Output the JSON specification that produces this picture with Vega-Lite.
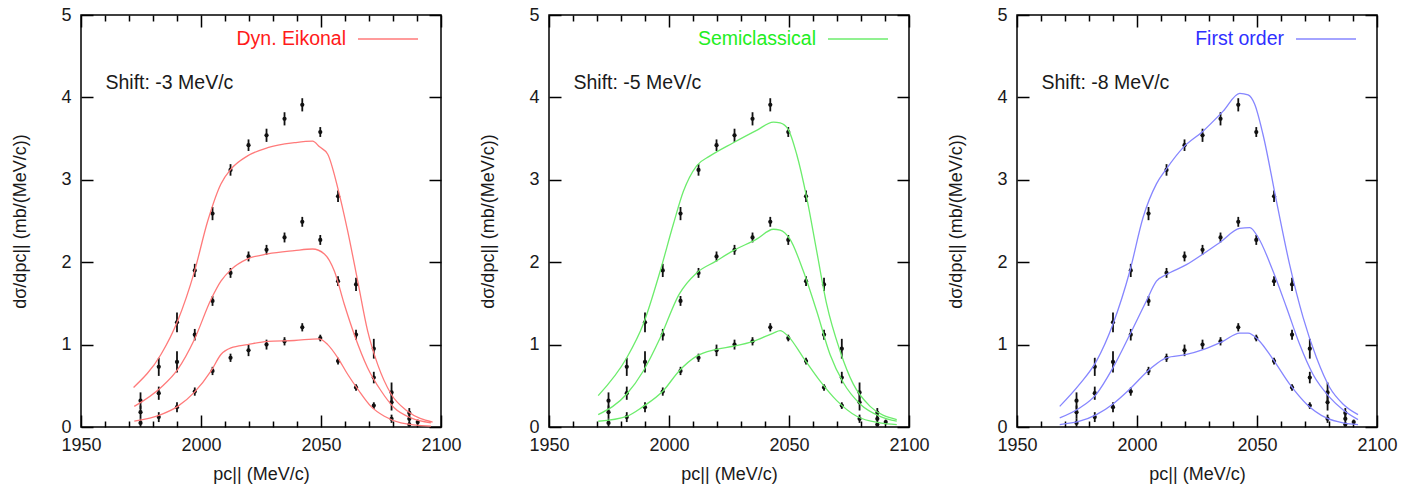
{
  "$schema": "https://vega.github.io/schema/vega-lite/v6.json",
  "padding": {"left": 11, "top": 5, "right": 0, "bottom": 0},
  "background": "white",
  "config": {
    "font": "Liberation Sans",
    "view": {"stroke": "#000", "strokeWidth": 1.5},
    "axis": {"domain": false, "grid": false, "labelFlush": false, "labelFont": "Liberation Sans", "labelFontSize": 18, "labelColor": "#1a1a1a", "titleFont": "Liberation Sans", "titleFontSize": 18, "titleFontWeight": "normal", "titleColor": "#1a1a1a", "tickColor": "#000", "tickWidth": 1.5},
    "legend": {"labelFont": "Liberation Sans", "labelFontSize": 19.5}
  },
  "datasets": {
    "pts": [
      {"p": 1974.8, "s": "a", "y": 0.32, "lo": 0.22, "hi": 0.42},
      {"p": 1974.8, "s": "b", "y": 0.18, "lo": 0.10, "hi": 0.26},
      {"p": 1974.8, "s": "c", "y": 0.05, "lo": 0.00, "hi": 0.10},
      {"p": 1982.4, "s": "a", "y": 0.73, "lo": 0.62, "hi": 0.84},
      {"p": 1982.4, "s": "b", "y": 0.41, "lo": 0.33, "hi": 0.49},
      {"p": 1982.4, "s": "c", "y": 0.12, "lo": 0.06, "hi": 0.18},
      {"p": 1990.0, "s": "a", "y": 1.27, "lo": 1.15, "hi": 1.39},
      {"p": 1990.0, "s": "b", "y": 0.79, "lo": 0.66, "hi": 0.92},
      {"p": 1990.0, "s": "c", "y": 0.24, "lo": 0.18, "hi": 0.30},
      {"p": 1997.4, "s": "a", "y": 1.90, "lo": 1.82, "hi": 1.98},
      {"p": 1997.4, "s": "b", "y": 1.12, "lo": 1.05, "hi": 1.19},
      {"p": 1997.4, "s": "c", "y": 0.43, "lo": 0.38, "hi": 0.48},
      {"p": 2004.8, "s": "a", "y": 2.59, "lo": 2.51, "hi": 2.67},
      {"p": 2004.8, "s": "b", "y": 1.53, "lo": 1.47, "hi": 1.59},
      {"p": 2004.8, "s": "c", "y": 0.68, "lo": 0.63, "hi": 0.73},
      {"p": 2012.3, "s": "a", "y": 3.12, "lo": 3.05, "hi": 3.19},
      {"p": 2012.3, "s": "b", "y": 1.87, "lo": 1.81, "hi": 1.93},
      {"p": 2012.3, "s": "c", "y": 0.84, "lo": 0.79, "hi": 0.89},
      {"p": 2019.8, "s": "a", "y": 3.42, "lo": 3.35, "hi": 3.49},
      {"p": 2019.8, "s": "b", "y": 2.07, "lo": 2.01, "hi": 2.13},
      {"p": 2019.8, "s": "c", "y": 0.93, "lo": 0.86, "hi": 1.00},
      {"p": 2027.3, "s": "a", "y": 3.54, "lo": 3.46, "hi": 3.62},
      {"p": 2027.3, "s": "b", "y": 2.15, "lo": 2.09, "hi": 2.21},
      {"p": 2027.3, "s": "c", "y": 1.00, "lo": 0.94, "hi": 1.06},
      {"p": 2034.8, "s": "a", "y": 3.74, "lo": 3.66, "hi": 3.82},
      {"p": 2034.8, "s": "b", "y": 2.30, "lo": 2.24, "hi": 2.36},
      {"p": 2034.8, "s": "c", "y": 1.04, "lo": 0.99, "hi": 1.09},
      {"p": 2042.2, "s": "a", "y": 3.91, "lo": 3.83, "hi": 3.99},
      {"p": 2042.2, "s": "b", "y": 2.49, "lo": 2.43, "hi": 2.55},
      {"p": 2042.2, "s": "c", "y": 1.21, "lo": 1.16, "hi": 1.26},
      {"p": 2049.7, "s": "a", "y": 3.58, "lo": 3.52, "hi": 3.64},
      {"p": 2049.7, "s": "b", "y": 2.27, "lo": 2.21, "hi": 2.33},
      {"p": 2049.7, "s": "c", "y": 1.08, "lo": 1.04, "hi": 1.12},
      {"p": 2057.1, "s": "a", "y": 2.80, "lo": 2.73, "hi": 2.87},
      {"p": 2057.1, "s": "b", "y": 1.77, "lo": 1.71, "hi": 1.83},
      {"p": 2057.1, "s": "c", "y": 0.80, "lo": 0.76, "hi": 0.84},
      {"p": 2064.6, "s": "a", "y": 1.73, "lo": 1.65, "hi": 1.81},
      {"p": 2064.6, "s": "b", "y": 1.12, "lo": 1.06, "hi": 1.18},
      {"p": 2064.6, "s": "c", "y": 0.48, "lo": 0.44, "hi": 0.52},
      {"p": 2072.0, "s": "a", "y": 0.95, "lo": 0.83, "hi": 1.07},
      {"p": 2072.0, "s": "b", "y": 0.60, "lo": 0.53, "hi": 0.67},
      {"p": 2072.0, "s": "c", "y": 0.26, "lo": 0.22, "hi": 0.30},
      {"p": 2079.4, "s": "a", "y": 0.42, "lo": 0.30, "hi": 0.54},
      {"p": 2079.4, "s": "b", "y": 0.30, "lo": 0.20, "hi": 0.40},
      {"p": 2079.4, "s": "c", "y": 0.10, "lo": 0.05, "hi": 0.15},
      {"p": 2086.8, "s": "a", "y": 0.17, "lo": 0.11, "hi": 0.23},
      {"p": 2086.8, "s": "b", "y": 0.10, "lo": 0.05, "hi": 0.15},
      {"p": 2086.8, "s": "c", "y": 0.03, "lo": 0.00, "hi": 0.06},
      {"p": 2090.3, "s": "a", "y": 0.06, "lo": 0.03, "hi": 0.09}
    ],
    "curves": [
      {"m": "Dyn. Eikonal", "c": "a", "p": 1971.9, "y": 0.48},
      {"m": "Dyn. Eikonal", "c": "a", "p": 1983.3, "y": 0.88},
      {"m": "Dyn. Eikonal", "c": "a", "p": 1990.3, "y": 1.29},
      {"m": "Dyn. Eikonal", "c": "a", "p": 1997.2, "y": 1.88},
      {"m": "Dyn. Eikonal", "c": "a", "p": 2002.8, "y": 2.50},
      {"m": "Dyn. Eikonal", "c": "a", "p": 2008.3, "y": 2.95},
      {"m": "Dyn. Eikonal", "c": "a", "p": 2012.5, "y": 3.13},
      {"m": "Dyn. Eikonal", "c": "a", "p": 2019.4, "y": 3.29},
      {"m": "Dyn. Eikonal", "c": "a", "p": 2027.8, "y": 3.39},
      {"m": "Dyn. Eikonal", "c": "a", "p": 2038.9, "y": 3.45},
      {"m": "Dyn. Eikonal", "c": "a", "p": 2046.5, "y": 3.47},
      {"m": "Dyn. Eikonal", "c": "a", "p": 2049.4, "y": 3.40},
      {"m": "Dyn. Eikonal", "c": "a", "p": 2052.8, "y": 3.31},
      {"m": "Dyn. Eikonal", "c": "a", "p": 2057.0, "y": 2.90},
      {"m": "Dyn. Eikonal", "c": "a", "p": 2061.1, "y": 2.38},
      {"m": "Dyn. Eikonal", "c": "a", "p": 2065.3, "y": 1.77},
      {"m": "Dyn. Eikonal", "c": "a", "p": 2069.4, "y": 1.17},
      {"m": "Dyn. Eikonal", "c": "a", "p": 2073.6, "y": 0.76},
      {"m": "Dyn. Eikonal", "c": "a", "p": 2079.2, "y": 0.40},
      {"m": "Dyn. Eikonal", "c": "a", "p": 2086.1, "y": 0.19},
      {"m": "Dyn. Eikonal", "c": "a", "p": 2096.5, "y": 0.06},
      {"m": "Dyn. Eikonal", "c": "b", "p": 1972.2, "y": 0.25},
      {"m": "Dyn. Eikonal", "c": "b", "p": 1983.3, "y": 0.48},
      {"m": "Dyn. Eikonal", "c": "b", "p": 1990.3, "y": 0.70},
      {"m": "Dyn. Eikonal", "c": "b", "p": 1997.2, "y": 1.06},
      {"m": "Dyn. Eikonal", "c": "b", "p": 2004.2, "y": 1.55},
      {"m": "Dyn. Eikonal", "c": "b", "p": 2008.3, "y": 1.77},
      {"m": "Dyn. Eikonal", "c": "b", "p": 2012.5, "y": 1.91},
      {"m": "Dyn. Eikonal", "c": "b", "p": 2019.4, "y": 2.04},
      {"m": "Dyn. Eikonal", "c": "b", "p": 2027.8, "y": 2.10},
      {"m": "Dyn. Eikonal", "c": "b", "p": 2038.9, "y": 2.14},
      {"m": "Dyn. Eikonal", "c": "b", "p": 2046.5, "y": 2.16},
      {"m": "Dyn. Eikonal", "c": "b", "p": 2051.4, "y": 2.10},
      {"m": "Dyn. Eikonal", "c": "b", "p": 2055.6, "y": 1.89},
      {"m": "Dyn. Eikonal", "c": "b", "p": 2059.7, "y": 1.49},
      {"m": "Dyn. Eikonal", "c": "b", "p": 2063.9, "y": 1.12},
      {"m": "Dyn. Eikonal", "c": "b", "p": 2069.4, "y": 0.72},
      {"m": "Dyn. Eikonal", "c": "b", "p": 2075.0, "y": 0.44},
      {"m": "Dyn. Eikonal", "c": "b", "p": 2080.6, "y": 0.23},
      {"m": "Dyn. Eikonal", "c": "b", "p": 2087.5, "y": 0.11},
      {"m": "Dyn. Eikonal", "c": "b", "p": 2095.8, "y": 0.05},
      {"m": "Dyn. Eikonal", "c": "c", "p": 1972.2, "y": 0.07},
      {"m": "Dyn. Eikonal", "c": "c", "p": 1983.3, "y": 0.15},
      {"m": "Dyn. Eikonal", "c": "c", "p": 1990.3, "y": 0.25},
      {"m": "Dyn. Eikonal", "c": "c", "p": 1997.2, "y": 0.42},
      {"m": "Dyn. Eikonal", "c": "c", "p": 2004.2, "y": 0.68},
      {"m": "Dyn. Eikonal", "c": "c", "p": 2008.3, "y": 0.88},
      {"m": "Dyn. Eikonal", "c": "c", "p": 2012.5, "y": 0.96},
      {"m": "Dyn. Eikonal", "c": "c", "p": 2019.4, "y": 1.00},
      {"m": "Dyn. Eikonal", "c": "c", "p": 2027.8, "y": 1.04},
      {"m": "Dyn. Eikonal", "c": "c", "p": 2038.9, "y": 1.05},
      {"m": "Dyn. Eikonal", "c": "c", "p": 2049.2, "y": 1.07},
      {"m": "Dyn. Eikonal", "c": "c", "p": 2052.8, "y": 1.00},
      {"m": "Dyn. Eikonal", "c": "c", "p": 2057.0, "y": 0.84},
      {"m": "Dyn. Eikonal", "c": "c", "p": 2061.1, "y": 0.64},
      {"m": "Dyn. Eikonal", "c": "c", "p": 2065.3, "y": 0.46},
      {"m": "Dyn. Eikonal", "c": "c", "p": 2070.8, "y": 0.25},
      {"m": "Dyn. Eikonal", "c": "c", "p": 2076.4, "y": 0.13},
      {"m": "Dyn. Eikonal", "c": "c", "p": 2083.3, "y": 0.05},
      {"m": "Dyn. Eikonal", "c": "c", "p": 2095.8, "y": 0.01},

      {"m": "Semiclassical", "c": "a", "p": 1970.5, "y": 0.38},
      {"m": "Semiclassical", "c": "a", "p": 1982.4, "y": 0.84},
      {"m": "Semiclassical", "c": "a", "p": 1989.3, "y": 1.25},
      {"m": "Semiclassical", "c": "a", "p": 1996.3, "y": 1.89},
      {"m": "Semiclassical", "c": "a", "p": 2001.8, "y": 2.46},
      {"m": "Semiclassical", "c": "a", "p": 2006.0, "y": 2.86},
      {"m": "Semiclassical", "c": "a", "p": 2011.5, "y": 3.17},
      {"m": "Semiclassical", "c": "a", "p": 2017.1, "y": 3.29},
      {"m": "Semiclassical", "c": "a", "p": 2026.8, "y": 3.45},
      {"m": "Semiclassical", "c": "a", "p": 2036.5, "y": 3.60},
      {"m": "Semiclassical", "c": "a", "p": 2043.5, "y": 3.70},
      {"m": "Semiclassical", "c": "a", "p": 2046.3, "y": 3.69},
      {"m": "Semiclassical", "c": "a", "p": 2049.7, "y": 3.61},
      {"m": "Semiclassical", "c": "a", "p": 2053.2, "y": 3.31},
      {"m": "Semiclassical", "c": "a", "p": 2057.4, "y": 2.78},
      {"m": "Semiclassical", "c": "a", "p": 2061.5, "y": 2.14},
      {"m": "Semiclassical", "c": "a", "p": 2065.7, "y": 1.49},
      {"m": "Semiclassical", "c": "a", "p": 2071.3, "y": 0.92},
      {"m": "Semiclassical", "c": "a", "p": 2076.8, "y": 0.52},
      {"m": "Semiclassical", "c": "a", "p": 2083.8, "y": 0.25},
      {"m": "Semiclassical", "c": "a", "p": 2094.9, "y": 0.09},
      {"m": "Semiclassical", "c": "b", "p": 1970.5, "y": 0.15},
      {"m": "Semiclassical", "c": "b", "p": 1982.4, "y": 0.40},
      {"m": "Semiclassical", "c": "b", "p": 1989.3, "y": 0.68},
      {"m": "Semiclassical", "c": "b", "p": 1996.3, "y": 1.08},
      {"m": "Semiclassical", "c": "b", "p": 2004.2, "y": 1.61},
      {"m": "Semiclassical", "c": "b", "p": 2011.5, "y": 1.87},
      {"m": "Semiclassical", "c": "b", "p": 2019.4, "y": 2.01},
      {"m": "Semiclassical", "c": "b", "p": 2026.8, "y": 2.14},
      {"m": "Semiclassical", "c": "b", "p": 2036.5, "y": 2.28},
      {"m": "Semiclassical", "c": "b", "p": 2043.5, "y": 2.40},
      {"m": "Semiclassical", "c": "b", "p": 2046.3, "y": 2.39},
      {"m": "Semiclassical", "c": "b", "p": 2050.4, "y": 2.28},
      {"m": "Semiclassical", "c": "b", "p": 2056.0, "y": 1.89},
      {"m": "Semiclassical", "c": "b", "p": 2061.5, "y": 1.41},
      {"m": "Semiclassical", "c": "b", "p": 2067.1, "y": 0.88},
      {"m": "Semiclassical", "c": "b", "p": 2072.6, "y": 0.54},
      {"m": "Semiclassical", "c": "b", "p": 2079.6, "y": 0.28},
      {"m": "Semiclassical", "c": "b", "p": 2087.9, "y": 0.13},
      {"m": "Semiclassical", "c": "b", "p": 2094.9, "y": 0.07},
      {"m": "Semiclassical", "c": "c", "p": 1970.5, "y": 0.07},
      {"m": "Semiclassical", "c": "c", "p": 1982.4, "y": 0.13},
      {"m": "Semiclassical", "c": "c", "p": 1989.3, "y": 0.25},
      {"m": "Semiclassical", "c": "c", "p": 1997.6, "y": 0.44},
      {"m": "Semiclassical", "c": "c", "p": 2004.2, "y": 0.68},
      {"m": "Semiclassical", "c": "c", "p": 2011.5, "y": 0.86},
      {"m": "Semiclassical", "c": "c", "p": 2019.4, "y": 0.94},
      {"m": "Semiclassical", "c": "c", "p": 2026.8, "y": 0.98},
      {"m": "Semiclassical", "c": "c", "p": 2035.1, "y": 1.04},
      {"m": "Semiclassical", "c": "c", "p": 2043.5, "y": 1.14},
      {"m": "Semiclassical", "c": "c", "p": 2046.3, "y": 1.17},
      {"m": "Semiclassical", "c": "c", "p": 2049.7, "y": 1.10},
      {"m": "Semiclassical", "c": "c", "p": 2056.0, "y": 0.84},
      {"m": "Semiclassical", "c": "c", "p": 2062.9, "y": 0.56},
      {"m": "Semiclassical", "c": "c", "p": 2069.9, "y": 0.32},
      {"m": "Semiclassical", "c": "c", "p": 2078.2, "y": 0.13},
      {"m": "Semiclassical", "c": "c", "p": 2087.9, "y": 0.05},
      {"m": "Semiclassical", "c": "c", "p": 2094.9, "y": 0.03},

      {"m": "First order", "c": "a", "p": 1967.8, "y": 0.25},
      {"m": "First order", "c": "a", "p": 1976.1, "y": 0.52},
      {"m": "First order", "c": "a", "p": 1983.1, "y": 0.80},
      {"m": "First order", "c": "a", "p": 1990.0, "y": 1.25},
      {"m": "First order", "c": "a", "p": 1997.0, "y": 1.89},
      {"m": "First order", "c": "a", "p": 2002.5, "y": 2.54},
      {"m": "First order", "c": "a", "p": 2008.1, "y": 2.95},
      {"m": "First order", "c": "a", "p": 2012.2, "y": 3.13},
      {"m": "First order", "c": "a", "p": 2019.2, "y": 3.39},
      {"m": "First order", "c": "a", "p": 2027.5, "y": 3.59},
      {"m": "First order", "c": "a", "p": 2035.8, "y": 3.83},
      {"m": "First order", "c": "a", "p": 2042.8, "y": 4.05},
      {"m": "First order", "c": "a", "p": 2046.3, "y": 4.03},
      {"m": "First order", "c": "a", "p": 2049.0, "y": 3.92},
      {"m": "First order", "c": "a", "p": 2052.5, "y": 3.55},
      {"m": "First order", "c": "a", "p": 2058.1, "y": 2.74},
      {"m": "First order", "c": "a", "p": 2063.6, "y": 1.97},
      {"m": "First order", "c": "a", "p": 2069.2, "y": 1.33},
      {"m": "First order", "c": "a", "p": 2074.8, "y": 0.84},
      {"m": "First order", "c": "a", "p": 2080.3, "y": 0.48},
      {"m": "First order", "c": "a", "p": 2085.8, "y": 0.28},
      {"m": "First order", "c": "a", "p": 2092.1, "y": 0.15},
      {"m": "First order", "c": "b", "p": 1967.8, "y": 0.11},
      {"m": "First order", "c": "b", "p": 1976.1, "y": 0.23},
      {"m": "First order", "c": "b", "p": 1983.1, "y": 0.40},
      {"m": "First order", "c": "b", "p": 1990.0, "y": 0.72},
      {"m": "First order", "c": "b", "p": 1997.0, "y": 1.12},
      {"m": "First order", "c": "b", "p": 2003.9, "y": 1.53},
      {"m": "First order", "c": "b", "p": 2008.1, "y": 1.77},
      {"m": "First order", "c": "b", "p": 2012.2, "y": 1.85},
      {"m": "First order", "c": "b", "p": 2020.6, "y": 1.97},
      {"m": "First order", "c": "b", "p": 2027.5, "y": 2.10},
      {"m": "First order", "c": "b", "p": 2034.5, "y": 2.24},
      {"m": "First order", "c": "b", "p": 2042.8, "y": 2.41},
      {"m": "First order", "c": "b", "p": 2047.0, "y": 2.42},
      {"m": "First order", "c": "b", "p": 2050.5, "y": 2.30},
      {"m": "First order", "c": "b", "p": 2056.7, "y": 1.89},
      {"m": "First order", "c": "b", "p": 2062.3, "y": 1.45},
      {"m": "First order", "c": "b", "p": 2067.8, "y": 1.00},
      {"m": "First order", "c": "b", "p": 2073.3, "y": 0.64},
      {"m": "First order", "c": "b", "p": 2080.3, "y": 0.36},
      {"m": "First order", "c": "b", "p": 2085.8, "y": 0.21},
      {"m": "First order", "c": "b", "p": 2092.1, "y": 0.09},
      {"m": "First order", "c": "c", "p": 1967.8, "y": 0.03},
      {"m": "First order", "c": "c", "p": 1976.1, "y": 0.07},
      {"m": "First order", "c": "c", "p": 1983.1, "y": 0.15},
      {"m": "First order", "c": "c", "p": 1990.0, "y": 0.28},
      {"m": "First order", "c": "c", "p": 1997.0, "y": 0.46},
      {"m": "First order", "c": "c", "p": 2005.3, "y": 0.70},
      {"m": "First order", "c": "c", "p": 2012.2, "y": 0.84},
      {"m": "First order", "c": "c", "p": 2020.6, "y": 0.88},
      {"m": "First order", "c": "c", "p": 2027.5, "y": 0.94},
      {"m": "First order", "c": "c", "p": 2035.8, "y": 1.04},
      {"m": "First order", "c": "c", "p": 2042.8, "y": 1.14},
      {"m": "First order", "c": "c", "p": 2046.3, "y": 1.14},
      {"m": "First order", "c": "c", "p": 2050.5, "y": 1.06},
      {"m": "First order", "c": "c", "p": 2056.7, "y": 0.82},
      {"m": "First order", "c": "c", "p": 2063.6, "y": 0.52},
      {"m": "First order", "c": "c", "p": 2070.6, "y": 0.28},
      {"m": "First order", "c": "c", "p": 2078.9, "y": 0.11},
      {"m": "First order", "c": "c", "p": 2085.8, "y": 0.05},
      {"m": "First order", "c": "c", "p": 2092.1, "y": 0.03}
    ]
  },
  "bounds": "flush",
  "spacing": 108,
  "resolve": {"scale": {"color": "independent"}, "legend": {"color": "independent"}},
  "hconcat": [
    {
      "width": 360, "height": 412,
      "layer": [
        {"data": {"name": "pts"}, "mark": {"type": "rule", "color": "#111", "strokeWidth": 1.8},
         "encoding": {
           "x": {"field": "p", "type": "quantitative", "scale": {"domain": [1950, 2100], "nice": false, "zero": false},
                 "axis": {"orient": "bottom", "values": [1950, 2000, 2050, 2100], "format": "d", "tickSize": -12, "labelPadding": 21, "title": "pc|| (MeV/c)", "titlePadding": 11}},
           "y": {"field": "lo", "type": "quantitative", "scale": {"domain": [0, 5], "nice": false, "zero": false},
                 "axis": {"orient": "left", "values": [0, 1, 2, 3, 4, 5], "tickSize": -12, "labelPadding": 22, "title": "dσ/dpc|| (mb/(MeV/c))", "titlePadding": 31}},
           "y2": {"field": "hi"}}},
        {"data": {"name": "pts"}, "mark": {"type": "point", "filled": true, "color": "#111", "size": 18, "opacity": 1},
         "encoding": {
           "x": {"field": "p", "type": "quantitative", "axis": {"orient": "bottom", "values": [1960, 1970, 1980, 1990, 2010, 2020, 2030, 2040, 2060, 2070, 2080, 2090], "tickSize": -6, "labels": false, "title": null}},
           "y": {"field": "y", "type": "quantitative", "axis": {"orient": "right", "values": [0, 1, 2, 3, 4, 5], "tickSize": -12, "labels": false, "title": null}}}},
        {"data": {"name": "curves"}, "transform": [{"filter": "datum.m === 'Dyn. Eikonal'"}],
         "mark": {"type": "line", "interpolate": "monotone", "strokeWidth": 1.3},
         "encoding": {
           "x": {"field": "p", "type": "quantitative", "axis": {"orient": "top", "values": [1950, 2000, 2050, 2100], "tickSize": -12, "labels": false, "title": null}},
           "y": {"field": "y", "type": "quantitative", "axis": null},
           "detail": {"field": "c"},
           "color": {"field": "m", "type": "nominal", "scale": {"domain": ["Dyn. Eikonal"], "range": ["#ff7a7a"]},
                     "legend": {"orient": "none", "legendX": 276, "legendY": -7, "padding": 0, "title": null, "symbolType": "stroke", "symbolSize": 3600, "symbolStrokeWidth": 1.3, "labelColor": "#ff1a1a", "labelAlign": "right", "labelOffset": -73}}}},
        {"data": {"values": [{"t": "Shift: -3 MeV/c"}]},
         "mark": {"type": "text", "align": "left", "baseline": "middle", "fontSize": 19.5, "color": "#1a1a1a"},
         "encoding": {
           "x": {"datum": 1960.2, "type": "quantitative", "axis": {"orient": "top", "values": [1960, 1970, 1980, 1990, 2010, 2020, 2030, 2040, 2060, 2070, 2080, 2090], "tickSize": -6, "labels": false, "title": null}},
           "y": {"datum": 4.18, "type": "quantitative", "axis": null},
           "text": {"field": "t"}}}
      ],
      "resolve": {"axis": {"x": "independent", "y": "independent"}}
    },
    {
      "width": 360, "height": 412,
      "layer": [
        {"data": {"name": "pts"}, "mark": {"type": "rule", "color": "#111", "strokeWidth": 1.8},
         "encoding": {
           "x": {"field": "p", "type": "quantitative", "scale": {"domain": [1950, 2100], "nice": false, "zero": false},
                 "axis": {"orient": "bottom", "values": [1950, 2000, 2050, 2100], "format": "d", "tickSize": -12, "labelPadding": 21, "title": "pc|| (MeV/c)", "titlePadding": 11}},
           "y": {"field": "lo", "type": "quantitative", "scale": {"domain": [0, 5], "nice": false, "zero": false},
                 "axis": {"orient": "left", "values": [0, 1, 2, 3, 4, 5], "tickSize": -12, "labelPadding": 22, "title": "dσ/dpc|| (mb/(MeV/c))", "titlePadding": 31}},
           "y2": {"field": "hi"}}},
        {"data": {"name": "pts"}, "mark": {"type": "point", "filled": true, "color": "#111", "size": 18, "opacity": 1},
         "encoding": {
           "x": {"field": "p", "type": "quantitative", "axis": {"orient": "bottom", "values": [1960, 1970, 1980, 1990, 2010, 2020, 2030, 2040, 2060, 2070, 2080, 2090], "tickSize": -6, "labels": false, "title": null}},
           "y": {"field": "y", "type": "quantitative", "axis": {"orient": "right", "values": [0, 1, 2, 3, 4, 5], "tickSize": -12, "labels": false, "title": null}}}},
        {"data": {"name": "curves"}, "transform": [{"filter": "datum.m === 'Semiclassical'"}],
         "mark": {"type": "line", "interpolate": "monotone", "strokeWidth": 1.3},
         "encoding": {
           "x": {"field": "p", "type": "quantitative", "axis": {"orient": "top", "values": [1950, 2000, 2050, 2100], "tickSize": -12, "labels": false, "title": null}},
           "y": {"field": "y", "type": "quantitative", "axis": null},
           "detail": {"field": "c"},
           "color": {"field": "m", "type": "nominal", "scale": {"domain": ["Semiclassical"], "range": ["#6cec6c"]},
                     "legend": {"orient": "none", "legendX": 278, "legendY": -7, "padding": 0, "title": null, "symbolType": "stroke", "symbolSize": 3600, "symbolStrokeWidth": 1.3, "labelColor": "#22ee22", "labelAlign": "right", "labelOffset": -73}}}},
        {"data": {"values": [{"t": "Shift: -5 MeV/c"}]},
         "mark": {"type": "text", "align": "left", "baseline": "middle", "fontSize": 19.5, "color": "#1a1a1a"},
         "encoding": {
           "x": {"datum": 1960.2, "type": "quantitative", "axis": {"orient": "top", "values": [1960, 1970, 1980, 1990, 2010, 2020, 2030, 2040, 2060, 2070, 2080, 2090], "tickSize": -6, "labels": false, "title": null}},
           "y": {"datum": 4.18, "type": "quantitative", "axis": null},
           "text": {"field": "t"}}}
      ],
      "resolve": {"axis": {"x": "independent", "y": "independent"}}
    },
    {
      "width": 360, "height": 412,
      "layer": [
        {"data": {"name": "pts"}, "mark": {"type": "rule", "color": "#111", "strokeWidth": 1.8},
         "encoding": {
           "x": {"field": "p", "type": "quantitative", "scale": {"domain": [1950, 2100], "nice": false, "zero": false},
                 "axis": {"orient": "bottom", "values": [1950, 2000, 2050, 2100], "format": "d", "tickSize": -12, "labelPadding": 21, "title": "pc|| (MeV/c)", "titlePadding": 11}},
           "y": {"field": "lo", "type": "quantitative", "scale": {"domain": [0, 5], "nice": false, "zero": false},
                 "axis": {"orient": "left", "values": [0, 1, 2, 3, 4, 5], "tickSize": -12, "labelPadding": 22, "title": "dσ/dpc|| (mb/(MeV/c))", "titlePadding": 31}},
           "y2": {"field": "hi"}}},
        {"data": {"name": "pts"}, "mark": {"type": "point", "filled": true, "color": "#111", "size": 18, "opacity": 1},
         "encoding": {
           "x": {"field": "p", "type": "quantitative", "axis": {"orient": "bottom", "values": [1960, 1970, 1980, 1990, 2010, 2020, 2030, 2040, 2060, 2070, 2080, 2090], "tickSize": -6, "labels": false, "title": null}},
           "y": {"field": "y", "type": "quantitative", "axis": {"orient": "right", "values": [0, 1, 2, 3, 4, 5], "tickSize": -12, "labels": false, "title": null}}}},
        {"data": {"name": "curves"}, "transform": [{"filter": "datum.m === 'First order'"}],
         "mark": {"type": "line", "interpolate": "monotone", "strokeWidth": 1.3},
         "encoding": {
           "x": {"field": "p", "type": "quantitative", "axis": {"orient": "top", "values": [1950, 2000, 2050, 2100], "tickSize": -12, "labels": false, "title": null}},
           "y": {"field": "y", "type": "quantitative", "axis": null},
           "detail": {"field": "c"},
           "color": {"field": "m", "type": "nominal", "scale": {"domain": ["First order"], "range": ["#8686ff"]},
                     "legend": {"orient": "none", "legendX": 278, "legendY": -7, "padding": 0, "title": null, "symbolType": "stroke", "symbolSize": 3600, "symbolStrokeWidth": 1.3, "labelColor": "#3030ff", "labelAlign": "right", "labelOffset": -73}}}},
        {"data": {"values": [{"t": "Shift: -8 MeV/c"}]},
         "mark": {"type": "text", "align": "left", "baseline": "middle", "fontSize": 19.5, "color": "#1a1a1a"},
         "encoding": {
           "x": {"datum": 1960.2, "type": "quantitative", "axis": {"orient": "top", "values": [1960, 1970, 1980, 1990, 2010, 2020, 2030, 2040, 2060, 2070, 2080, 2090], "tickSize": -6, "labels": false, "title": null}},
           "y": {"datum": 4.18, "type": "quantitative", "axis": null},
           "text": {"field": "t"}}}
      ],
      "resolve": {"axis": {"x": "independent", "y": "independent"}}
    }
  ]
}
